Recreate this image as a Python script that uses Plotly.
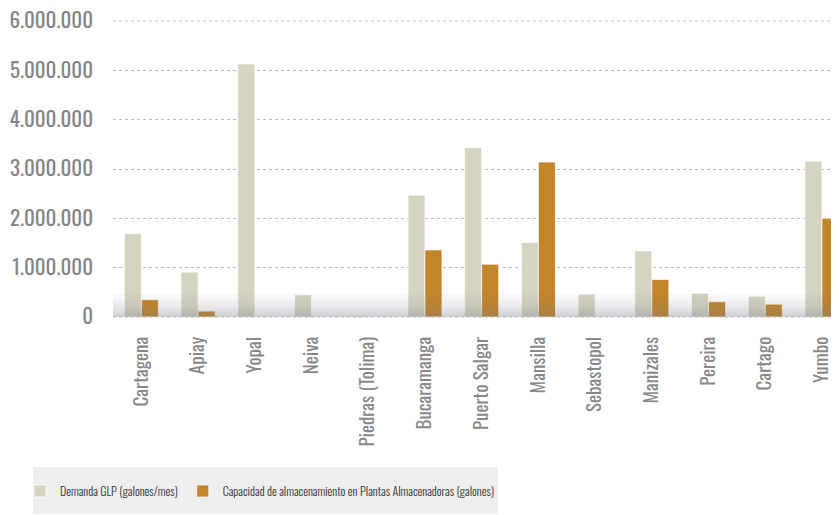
import plotly.graph_objects as go

categories = ["Cartagena", "Apiay", "Yopal", "Neiva", "Piedras (Tolima)", "Bucaramanga",
              "Puerto Salgar", "Mansilla", "Sebastopol", "Manizales", "Pereira", "Cartago", "Yumbo"]
demanda = [1690000, 910000, 5130000, 450000, 25000, 2470000,
           3430000, 1510000, 460000, 1340000, 480000, 420000, 3160000]
capacidad = [350000, 120000, 0, 0, 0, 1360000,
             1070000, 3140000, 0, 760000, 310000, 260000, 2000000]
y_ticks = [0, 1000000, 2000000, 3000000, 4000000, 5000000, 6000000]
y_tick_labels = ["0", "1.000.000", "2.000.000", "3.000.000", "4.000.000", "5.000.000", "6.000.000"]

FONT = "Oswald, Roboto Condensed, sans-serif"

fig = go.Figure()
fig.add_trace(go.Bar(x=categories, y=demanda, name="Demanda GLP (galones/mes)",
                     marker=dict(color="#d5d4c1", line=dict(color="rgba(255,255,255,0.7)", width=1))))
fig.add_trace(go.Bar(x=categories, y=capacidad,
                     name="Capacidad de almacenamiento en Plantas Almacenadoras (galones)",
                     marker=dict(color="#c3852a", line=dict(color="rgba(255,255,255,0.7)", width=1))))

# bottom gradient band (decoration)
n = 14
for i in range(n):
    y0 = 0.08 * i / n
    y1 = 0.08 * (i + 1) / n
    op = 0.04 + 0.32 * (1 - i / n) ** 1.8
    fig.add_shape(type="rect", xref="paper", yref="paper", x0=0, x1=1, y0=y0, y1=y1,
                  fillcolor="rgb(118,120,134)", opacity=op, line_width=0, layer="above")

# legend box
fig.add_shape(type="rect", xref="paper", yref="paper", x0=(33 - 113) / 726, x1=(498 - 113) / 726,
              y0=(317 - 514) / 296, y1=(317 - 467) / 296, fillcolor="#eeeeee", line_width=0,
              layer="below")

fig.update_layout(
    width=839, height=515,
    margin=dict(l=105, r=8, t=13, b=206, autoexpand=False),
    paper_bgcolor="white", plot_bgcolor="white",
    barmode="group", bargap=0.4, bargroupgap=0,
    font=dict(family=FONT, color="#858585"),
    showlegend=True,
    legend=dict(orientation="h", x=(20 - 113) / 726, xanchor="left",
                y=(317 - 491) / 296, yanchor="middle",
                bgcolor="rgba(0,0,0,0)",
                font=dict(family=FONT, size=12, color="#333333", weight=300),
                itemwidth=30, tracegroupgap=0),
    xaxis=dict(range=[-0.5, 12.3], tickangle=-90, tickfont=dict(size=19, color="#888888"),
               showgrid=False, showline=False, ticks="", ticklabelstandoff=15, fixedrange=True,
               automargin=False),
    yaxis=dict(range=[0, 6000000], tickvals=y_ticks, ticktext=y_tick_labels,
               tickfont=dict(size=21, color="#858585"), showgrid=True, gridcolor="#bdbdbd",
               griddash="dot", gridwidth=1, zeroline=False, showline=False, ticks="",
               ticklabelstandoff=19, fixedrange=True, automargin=False,
               ticklabeloverflow="allow"),
)

for yy in (0, 1):
    fig.add_shape(type="line", xref="paper", yref="paper", x0=0, x1=1, y0=yy, y1=yy,
                  line=dict(color="#bdbdbd", width=1, dash="dot"), layer="above")

fig.write_html("out.html")
